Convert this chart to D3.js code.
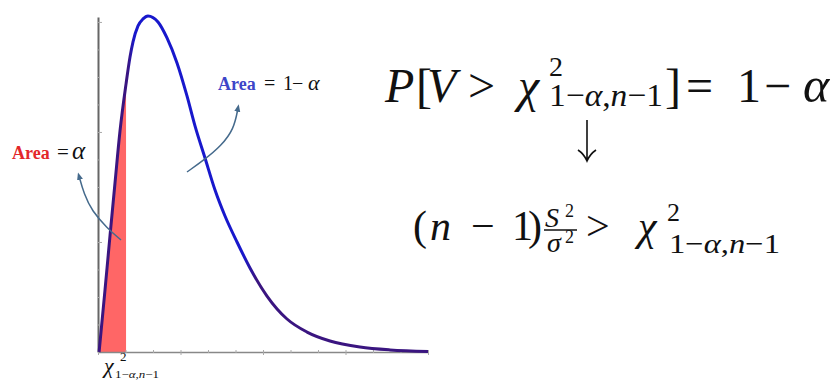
<!DOCTYPE html>
<html>
<head>
<meta charset="utf-8">
<script src="https://cdn.jsdelivr.net/npm/d3@7"></script>
</head>
<body style="margin:0">
<div id="drawing_region"></div>
<script>
// curve (x = chi-square value, y = density)
const curveX = [0.04, 0.255, 0.436, 0.618, 0.80, 1.02, 1.164, 1.273, 1.455, 1.636, 1.818, 2.182, 2.509, 2.873,
                3.236, 3.527, 3.891, 4.255, 4.618, 5.055, 5.527, 6.145, 6.873, 7.60, 8.436, 9.527, 10.618, 12];
const curveY = [0, 0.0451, 0.0844, 0.1229, 0.1607, 0.195, 0.2145, 0.2255, 0.2371, 0.2422, 0.2444, 0.240, 0.2284, 0.2102,
                0.1862, 0.1644, 0.1411, 0.1178, 0.0989, 0.080, 0.0611, 0.0407, 0.024, 0.0145, 0.008, 0.0036, 0.0015, 0.0004];
const cutoff = 1.02;               // chi^2_{1-alpha, n-1}
const xTicks = d3.range(0, 12.01, 1);
const yTicks = d3.range(0, 0.241, 0.02);

const data = curveX.map((x, i) => ({x: x, y: curveY[i]}));

const config = { parent: '#drawing_region', width: 838, height: 381 };
const FONT = 'Liberation Serif';

const svg = d3.select(config.parent).append('svg')
    .attr('width', config.width)
    .attr('height', config.height)
    .style('display', 'block');

const xscale = d3.scaleLinear().domain([0, 12]).range([98, 428]);
const yscale = d3.scaleLinear().domain([0, 0.2436]).range([352, 17]);

// gradient: the curve is purple near the bottom, blue around the peak
const defs = svg.append('defs');
const grad = defs.append('linearGradient')
    .attr('id', 'curveGrad')
    .attr('gradientUnits', 'userSpaceOnUse')
    .attr('x1', xscale(0)).attr('x2', xscale(12))
    .attr('y1', 0).attr('y2', 0);
[[0, '#3a1580'], [0.09, '#3a1580'], [0.11, '#1818cc'], [0.44, '#1818cc'], [0.48, '#3a1580'], [1, '#3a1580']]
    .forEach(s => grad.append('stop').attr('offset', s[0]).attr('stop-color', s[1]));

defs.append('marker')
    .attr('id', 'head')
    .attr('viewBox', '0 0 10 10')
    .attr('refX', 5).attr('refY', 5)
    .attr('markerWidth', 5).attr('markerHeight', 5)
    .attr('orient', 'auto')
  .append('path')
    .attr('d', 'M0,1 L10,5 L0,9 Z')
    .attr('fill', '#456a8c');

// shaded lower tail
const area = d3.area()
    .x(d => xscale(d.x))
    .y0(yscale(0))
    .y1(d => yscale(d.y))
    .curve(d3.curveMonotoneX);

svg.append('path')
    .attr('d', area(data.filter(d => d.x <= cutoff)))
    .attr('fill', '#ff6666');

// axes
const yAxis = d3.axisRight(yscale)
    .tickValues(yTicks)
    .tickSize(3)
    .tickSizeOuter(0)
    .tickFormat('');
const gy = svg.append('g')
    .attr('transform', `translate(${xscale(0)},0)`)
    .call(yAxis);
gy.select('.domain').attr('stroke', '#666').attr('stroke-width', 2);
gy.selectAll('.tick line')
    .attr('stroke', '#aaa')
    .attr('x2', (d, i) => i % 4 === 0 ? 4 : 2);

const xAxis = d3.axisBottom(xscale)
    .tickValues(xTicks)
    .tickSize(3)
    .tickSizeOuter(0)
    .tickFormat('');
const gx = svg.append('g')
    .attr('transform', `translate(0,${yscale(0)})`)
    .call(xAxis);
gx.select('.domain').attr('stroke', '#888').attr('stroke-width', 1.5);
gx.selectAll('.tick line')
    .attr('stroke', '#aaa')
    .attr('y1', -2)
    .attr('y2', (d, i) => i % 3 === 0 ? 3 : 1);

// density curve
const line = d3.line()
    .x(d => xscale(d.x))
    .y(d => yscale(d.y))
    .curve(d3.curveMonotoneX);

svg.append('path')
    .attr('d', line(data))
    .attr('fill', 'none')
    .attr('stroke', 'url(#curveGrad)')
    .attr('stroke-width', 3)
    .attr('stroke-linejoin', 'round');

// annotation arrows
const arrow = d3.line().curve(d3.curveBasis);
svg.append('path')
    .attr('d', arrow([[121, 240], [107, 228], [92, 211], [84, 194], [79, 176]]))
    .attr('fill', 'none').attr('stroke', '#456a8c').attr('stroke-width', 1.5)
    .attr('marker-end', 'url(#head)');
svg.append('path')
    .attr('d', arrow([[187, 172], [204, 160], [221, 146], [234, 129], [238, 108]]))
    .attr('fill', 'none').attr('stroke', '#456a8c').attr('stroke-width', 1.5)
    .attr('marker-end', 'url(#head)');

// labels
function piece(t, x, y, size, italic, color) {
    const el = svg.append('text')
        .attr('x', x).attr('y', y)
        .attr('font-family', FONT)
        .attr('font-size', size)
        .attr('fill', color || '#111')
        .text(t);
    if (italic) el.attr('font-style', 'italic');
    return el;
}
function sub(x, y, size, len) {
    const t = svg.append('text')
        .attr('x', x).attr('y', y)
        .attr('font-family', FONT)
        .attr('font-size', size)
        .attr('fill', '#111');
    if (len) t.attr('textLength', len).attr('lengthAdjust', 'spacingAndGlyphs');
    t.append('tspan').text('1\u2212');
    t.append('tspan').attr('font-style', 'italic').text('\u03b1');
    t.append('tspan').text(',');
    t.append('tspan').attr('font-style', 'italic').text('n');
    t.append('tspan').text('\u22121');
    return t;
}

piece('Area', 12, 159, 18, false, '#e3262a').attr('font-weight', 'bold');
piece('=', 57, 159, 21, false);
piece('\u03b1', 72, 159, 25, true);

piece('Area', 218, 90, 18, false, '#3d45c8').attr('font-weight', 'bold');
piece('=', 264, 90, 20, false);
piece('1', 283, 90, 20, false);
piece('\u2212', 292, 90, 20, false);
piece('\u03b1', 308, 90, 22, true);

// x-axis label under the cutoff
const cx = xscale(cutoff);
piece('\u03c7', cx - 22, 373, 22, true);
piece('2', cx - 6, 361, 13, false);
sub(cx - 11, 378, 11, 44);

// P[V > chi^2] = 1 - alpha
piece('P', 385, 102, 48, true);
piece('[', 416, 102, 48, false);
piece('V', 427, 102, 48, true);
piece('>', 468, 102, 48, false);
piece('\u03c7', 518, 102, 48, true);
piece('2', 549, 76, 28, false);
sub(549, 106, 32, 114);
piece(']', 665, 102, 48, false);
piece('=', 686, 102, 48, false);
piece('1', 737, 102, 48, false);
piece('\u2212', 764, 102, 48, false);
piece('\u03b1', 803, 102, 50, true);

// down arrow
svg.append('path')
    .attr('d', 'M587,120 L587,160 M578,150 Q584,154 587,161 Q590,154 596,150')
    .attr('fill', 'none').attr('stroke', '#111').attr('stroke-width', 1.6);

// (n-1) S^2/sigma^2 > chi^2
piece('(', 413, 240, 42, false);
piece('n', 430, 240, 42, true);
piece('\u2212', 471, 240, 42, false);
piece('1', 512, 240, 42, false);
piece(')', 528, 240, 42, false);
piece('S', 545, 227, 28, true);
piece('2', 565, 217, 18, false);
svg.append('line')
    .attr('x1', 544).attr('x2', 577).attr('y1', 230).attr('y2', 230)
    .attr('stroke', '#111').attr('stroke-width', 1.4);
piece('\u03c3', 547, 252, 28, true);
piece('2', 565, 243, 18, false);
piece('>', 586, 240, 42, false);
piece('\u03c7', 638, 240, 42, true);
piece('2', 667, 221, 26, false);
sub(669, 253, 28, 111);
</script>
</body>
</html>
